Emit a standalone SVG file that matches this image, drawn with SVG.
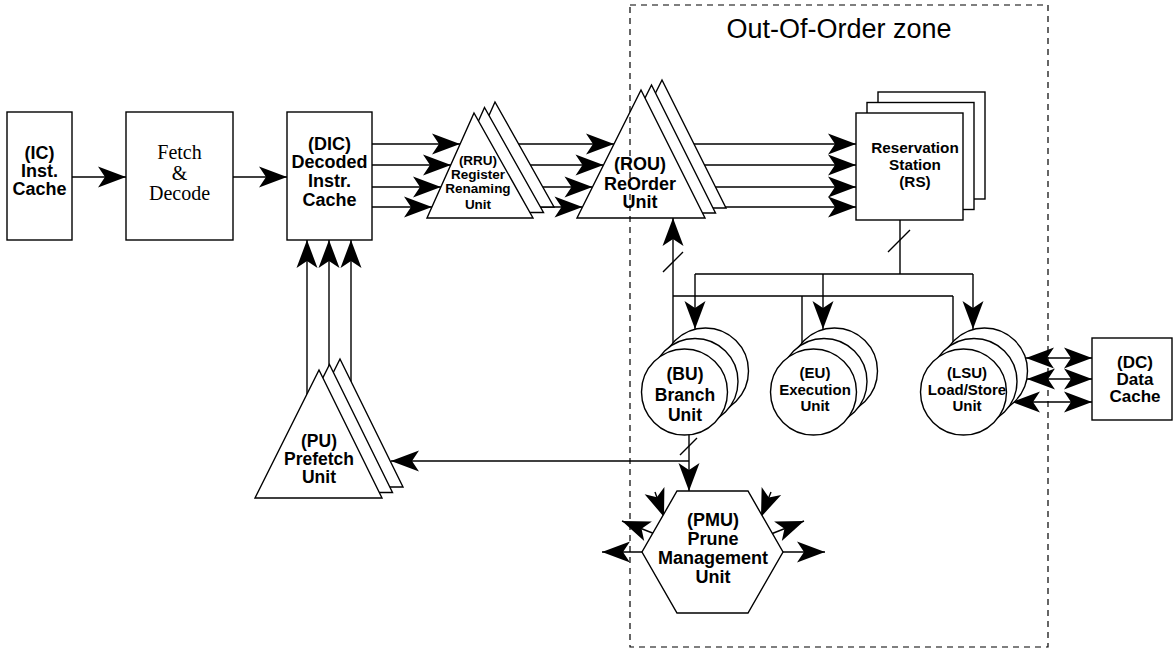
<svg xmlns="http://www.w3.org/2000/svg" width="1175" height="651" viewBox="0 0 1175 651">
  <defs>
    <style>
      .box { fill: #fff; stroke: #000; stroke-width: 1.4; }
      .ln { fill: none; stroke: #000; stroke-width: 1.4; }
      .arr { fill: none; stroke: #000; stroke-width: 1.4; marker-end: url(#ah); }
      .arr2 { fill: none; stroke: #000; stroke-width: 1.4; marker-start: url(#ah); marker-end: url(#ah); }
      .zone { fill: none; stroke: #000; stroke-width: 1.2; stroke-dasharray: 6 5; }
      .t { font-family: "Liberation Sans", Arial, sans-serif; font-weight: bold; text-anchor: middle; fill: #000; }
      .ts { font-family: "Liberation Serif", "Times New Roman", serif; text-anchor: middle; fill: #000; }
    </style>
    <!-- notched arrowhead, tip on the path end -->
    <marker id="ah" viewBox="-29 -12 30 24" refX="0" refY="0" markerWidth="30" markerHeight="24" markerUnits="userSpaceOnUse" orient="auto-start-reverse">
      <path d="M0,0 L-28,-10.5 L-21,0 L-28,10.5 Z" fill="#000"/>
    </marker>
  </defs>
  <rect width="1175" height="651" fill="#fff"/>

  <!-- connectors -->
  <g id="connectors">
    <path class="arr" d="M72,177 H126"/>
    <path class="arr" d="M233,177 H287"/>
    <!-- DIC to RRU -->
    <path class="arr" d="M372,144 H460"/>
    <path class="arr" d="M372,165 H451"/>
    <path class="arr" d="M372,187 H441"/>
    <path class="arr" d="M372,207 H432"/>
    <!-- RRU to ROU -->
    <path class="arr" d="M470,144 H614"/>
    <path class="arr" d="M470,165 H603.5"/>
    <path class="arr" d="M470,187 H592.5"/>
    <path class="arr" d="M470,207 H582.5"/>
    <!-- ROU to RS -->
    <path class="arr" d="M640,144 H856"/>
    <path class="arr" d="M640,165 H856"/>
    <path class="arr" d="M640,187 H856"/>
    <path class="arr" d="M640,207 H856"/>
    <!-- PU to DIC -->
    <path class="arr" d="M307,400 V240"/>
    <path class="arr" d="M329,400 V240"/>
    <path class="arr" d="M351,400 V240"/>
    <!-- RS issue bus -->
    <path class="ln" d="M900,220 V274 M695,274 H973"/>
    <path class="arr" d="M695,274 V329"/>
    <path class="arr" d="M823,274 V329"/>
    <path class="arr" d="M973,274 V329"/>
    <!-- result bus back to ROU -->
    <path class="ln" d="M673,296 H953 M802,296 V350 M953,296 V350"/>
    <path class="arr" d="M673,350 V218"/>
    <!-- BU to PMU and PU -->
    <path class="arr" d="M689,430 V491"/>
    <path class="arr" d="M689,461 H391"/>
    <!-- bus-width marks -->
    <path class="ln" d="M663,272 L683,252 M888,252 L910,230 M680,455 L697,438"/>
    <!-- LSU to DC -->
    <path class="arr2" d="M1026,358 H1092"/>
    <path class="arr2" d="M1027,379 H1092"/>
    <path class="arr2" d="M1012,402 H1092"/>
    <!-- PMU outputs and inputs -->
    <path class="arr" d="M642,552 H602"/>
    <path class="arr" d="M783,552 H825"/>
    <path class="arr" d="M655,534 L622,521"/>
    <path class="arr" d="M771,534 L804,521"/>
    <path class="arr" d="M655,492 L664,517"/>
    <path class="arr" d="M771,492 L761,517"/>
  </g>

  <!-- IC -->
  <g id="ic">
    <rect class="box" x="7" y="112" width="65" height="128"/>
    <text class="t" font-size="18" x="39.5" y="159">(IC)</text>
    <text class="t" font-size="18" x="39.5" y="177">Inst.</text>
    <text class="t" font-size="18" x="39.5" y="195">Cache</text>
  </g>

  <!-- Fetch & Decode -->
  <g id="fetch">
    <rect class="box" x="126" y="112" width="107" height="128"/>
    <text class="ts" font-size="20" x="179.5" y="159">Fetch</text>
    <text class="ts" font-size="20" x="179.5" y="180">&amp;</text>
    <text class="ts" font-size="20" x="179.5" y="200">Decode</text>
  </g>

  <!-- DIC -->
  <g id="dic">
    <rect class="box" x="287" y="112" width="85" height="128"/>
    <text class="t" font-size="18" x="329.5" y="150">(DIC)</text>
    <text class="t" font-size="18" x="329.5" y="168">Decoded</text>
    <text class="t" font-size="18" x="329.5" y="187">Instr.</text>
    <text class="t" font-size="18" x="329.5" y="206">Cache</text>
  </g>

  <!-- RRU -->
  <g id="rru">
    <polygon class="box" points="495,102 448,207 554,207"/>
    <polygon class="box" points="484.5,107.5 437.5,212.5 543.5,212.5"/>
    <polygon class="box" points="474,113 427,218 533,218"/>
    <text class="t" font-size="13.5" x="478" y="165">(RRU)</text>
    <text class="t" font-size="13.5" x="478" y="179">Register</text>
    <text class="t" font-size="13.5" x="478" y="193">Renaming</text>
    <text class="t" font-size="13.5" x="478" y="209">Unit</text>
  </g>

  <!-- ROU -->
  <g id="rou">
    <polygon class="box" points="662,80 598,208 726,208"/>
    <polygon class="box" points="651.5,85 587.5,213 715.5,213"/>
    <polygon class="box" points="641,90 577,218 705,218"/>
    <text class="t" font-size="18" x="640" y="170">(ROU)</text>
    <text class="t" font-size="18" x="640" y="190">ReOrder</text>
    <text class="t" font-size="18" x="640" y="208">Unit</text>
  </g>

  <!-- RS -->
  <g id="rs">
    <rect class="box" x="878" y="92" width="107" height="107"/>
    <rect class="box" x="867" y="102.5" width="107" height="107"/>
    <rect class="box" x="856" y="113" width="107" height="107"/>
    <text class="t" font-size="15.3" x="915" y="153">Reservation</text>
    <text class="t" font-size="15.3" x="915" y="170">Station</text>
    <text class="t" font-size="15.3" x="915" y="187">(RS)</text>
  </g>

  <!-- BU -->
  <g id="bu">
    <circle class="box" cx="705.5" cy="371" r="43"/>
    <circle class="box" cx="695" cy="381.5" r="43"/>
    <circle class="box" cx="684.5" cy="392" r="43"/>
    <text class="t" font-size="17.5" x="685" y="380">(BU)</text>
    <text class="t" font-size="17.5" x="685" y="401">Branch</text>
    <text class="t" font-size="17.5" x="685" y="421">Unit</text>
  </g>

  <!-- EU -->
  <g id="eu">
    <circle class="box" cx="834.5" cy="371" r="43"/>
    <circle class="box" cx="824" cy="381.5" r="43"/>
    <circle class="box" cx="813.5" cy="392" r="43"/>
    <text class="t" font-size="15" x="815" y="378">(EU)</text>
    <text class="t" font-size="15" x="815" y="395">Execution</text>
    <text class="t" font-size="15" x="815" y="411">Unit</text>
  </g>

  <!-- LSU -->
  <g id="lsu">
    <circle class="box" cx="984.5" cy="371" r="43"/>
    <circle class="box" cx="974" cy="381.5" r="43"/>
    <circle class="box" cx="963.5" cy="392" r="43"/>
    <text class="t" font-size="15" x="967" y="378">(LSU)</text>
    <text class="t" font-size="15" x="967" y="395">Load/Store</text>
    <text class="t" font-size="15" x="967" y="411">Unit</text>
  </g>

  <!-- DC -->
  <g id="dc">
    <rect class="box" x="1092" y="338" width="80" height="82"/>
    <text class="t" font-size="17" x="1135" y="368">(DC)</text>
    <text class="t" font-size="17" x="1135" y="385">Data</text>
    <text class="t" font-size="17" x="1135" y="402">Cache</text>
  </g>

  <!-- PU -->
  <g id="pu">
    <polygon class="box" points="340,359 276,487 403,487"/>
    <polygon class="box" points="329.5,364.5 265.5,492.5 392.5,492.5"/>
    <polygon class="box" points="319,370 255,498 382,498"/>
    <text class="t" font-size="17.5" x="319" y="447">(PU)</text>
    <text class="t" font-size="17.5" x="319" y="465">Prefetch</text>
    <text class="t" font-size="17.5" x="319" y="483">Unit</text>
  </g>

  <!-- PMU -->
  <g id="pmu">
    <polygon class="box" points="677,491 748,491 783,552 748,613 677,613 642,552"/>
    <text class="t" font-size="18" x="713" y="526">(PMU)</text>
    <text class="t" font-size="18" x="713" y="545">Prune</text>
    <text class="t" font-size="18" x="713" y="564">Management</text>
    <text class="t" font-size="18" x="713" y="583">Unit</text>
  </g>

  <!-- out-of-order boundary -->
  <g id="ooo-zone">
    <rect class="zone" x="630" y="5" width="418" height="642"/>
    <text x="839" y="38" font-family="Liberation Sans, Arial, sans-serif" font-size="27" text-anchor="middle" fill="#000">Out-Of-Order zone</text>
  </g>
</svg>
